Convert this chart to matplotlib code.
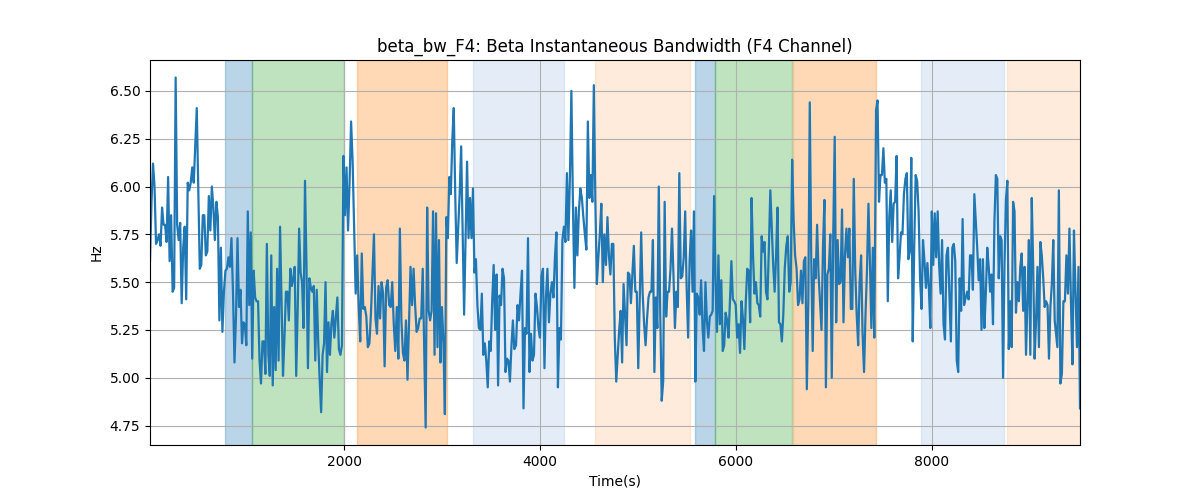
import numpy as np
import matplotlib
matplotlib.use("Agg")
import matplotlib.pyplot as plt

# beta bandwidth readings, grouped by stretch of time (start, end, values)
seg_bounds = [
    (20, 959), (973, 1901), (1932, 2803), (2833, 3738), (3755, 4656),
    (4673, 5571), (5585, 6497), (6513, 7411), (7429, 8327), (8344, 9252),
    (9279, 9510),
]

seg_values = [
    [5.61, 5.92, 6.12, 6.00, 5.70, 5.72, 5.75, 5.69, 5.89, 5.80, 5.80, 5.71, 6.05, 5.61, 5.85, 5.45,
     5.47, 6.57, 5.80, 5.72, 5.81, 5.39, 5.68, 5.79, 5.41, 6.02, 5.98, 6.02, 6.10, 6.02, 6.22, 6.41,
     6.00, 5.57, 5.59, 5.85, 5.85, 5.64, 5.66, 5.95, 5.77, 6.00, 5.89, 5.72, 5.92, 5.84, 5.30, 5.68,
     5.24, 5.45, 5.56, 5.57, 5.63, 5.58, 5.73, 5.45, 5.08, 5.32, 5.73, 5.37, 5.46, 5.18],
    [5.29, 5.28, 5.17, 5.87, 5.38, 5.76, 5.10, 5.56, 5.42, 5.40, 5.40, 5.09, 4.97, 5.19, 5.19, 5.02,
     5.70, 5.12, 5.01, 5.64, 4.96, 5.37, 5.04, 5.57, 5.09, 5.79, 5.40, 5.01, 5.21, 5.45, 5.45, 5.30,
     5.57, 5.48, 5.52, 5.58, 5.01, 5.35, 5.78, 5.55, 5.50, 5.26, 6.03, 5.59, 5.05, 5.52, 5.47, 5.45,
     5.48, 5.09, 5.46, 5.19, 4.99, 4.82, 5.12, 5.18, 5.50, 5.03, 5.29, 5.12, 5.28, 5.35, 5.21],
    [5.42, 5.15, 5.12, 5.17, 6.16, 5.85, 6.10, 5.77, 6.02, 6.34, 6.13, 5.78, 5.44, 5.64, 5.37, 5.19,
     5.65, 5.36, 5.37, 5.32, 5.16, 5.18, 5.33, 5.54, 5.75, 5.31, 5.23, 5.48, 5.31, 5.50, 5.44, 5.06,
     5.47, 5.51, 5.38, 5.37, 5.50, 5.28, 5.14, 5.37, 5.10, 5.78, 5.30, 5.13, 5.09, 5.30, 4.99, 5.28,
     5.58, 5.38, 5.57, 5.38, 5.24, 5.26, 5.31, 5.31, 5.57],
    [4.74, 5.89, 5.35, 5.30, 5.35, 5.87, 5.12, 5.86, 5.16, 5.72, 5.08, 5.37, 5.19, 4.81, 5.84, 5.73,
     6.05, 5.96, 6.24, 6.41, 5.96, 5.60, 5.78, 5.96, 6.21, 5.78, 5.33, 5.72, 6.13, 5.73, 5.94, 5.73,
     5.99, 5.55, 5.62, 5.38, 5.26, 5.25, 5.44, 5.12, 5.18, 5.09, 4.95, 5.19, 5.14, 5.40, 5.59, 5.25,
     5.54, 4.96, 5.43, 5.38, 5.57, 5.52, 5.03, 5.10, 5.09, 4.98, 5.16, 5.30, 5.15],
    [5.17, 5.38, 5.30, 5.44, 5.56, 4.84, 5.26, 5.23, 5.73, 5.03, 5.23, 5.09, 5.12, 5.44, 5.37, 5.26,
     5.21, 5.53, 5.57, 5.05, 5.42, 5.57, 5.29, 5.44, 5.50, 5.42, 5.63, 5.76, 4.95, 5.26, 5.20, 5.72,
     5.79, 5.71, 6.07, 5.72, 6.05, 6.50, 5.92, 5.47, 5.89, 5.64, 5.87, 5.99, 5.94, 5.84, 5.75, 5.67,
     6.34, 5.94, 6.06, 5.92, 6.53, 5.93, 5.49, 5.63, 5.75, 5.91, 5.50, 5.75],
    [5.59, 5.84, 5.64, 5.54, 5.70, 5.70, 5.21, 4.98, 5.12, 5.25, 5.35, 5.08, 5.49, 5.33, 5.17, 5.55,
     5.54, 5.39, 5.54, 5.69, 5.45, 5.45, 5.05, 5.40, 5.76, 5.44, 5.28, 5.17, 5.31, 5.42, 5.45, 5.45,
     5.72, 5.03, 5.42, 5.26, 6.00, 5.33, 4.88, 4.98, 5.92, 5.32, 5.45, 5.45, 5.57, 5.78, 5.54, 5.26,
     5.45, 5.37, 6.07, 5.52, 5.53, 5.63, 5.87, 5.47, 5.21, 5.61, 5.77, 5.45, 5.87],
    [4.98, 5.44, 5.42, 5.33, 5.51, 5.26, 5.14, 5.50, 5.30, 5.21, 5.32, 5.33, 5.35, 5.95, 5.50, 5.24,
     5.64, 5.28, 5.51, 5.14, 5.17, 5.34, 5.30, 5.21, 5.40, 5.61, 5.41, 5.40, 5.38, 5.21, 5.28, 5.13,
     5.40, 5.31, 5.15, 5.40, 5.57, 5.56, 5.29, 5.94, 5.64, 5.44, 5.50, 5.39, 5.38, 5.32, 5.74, 5.66,
     5.71, 5.45, 5.41, 5.68, 5.98, 5.78, 5.59, 5.45, 5.64, 5.89, 5.29, 5.28, 5.19, 5.33, 5.57],
    [5.69, 5.74, 5.45, 5.50, 6.14, 5.82, 5.64, 5.57, 5.38, 5.41, 5.56, 5.39, 5.61, 5.63, 4.94, 5.40,
     6.44, 5.63, 5.14, 5.62, 5.52, 5.80, 5.54, 5.40, 5.25, 5.68, 5.93, 4.95, 5.54, 5.57, 5.75, 5.00,
     5.75, 6.26, 5.29, 5.72, 5.49, 5.50, 5.88, 5.29, 5.64, 5.78, 5.63, 5.78, 5.36, 5.36, 6.04, 5.56,
     5.33, 5.17, 5.50, 5.64, 5.23, 5.03, 5.33, 5.56, 5.91, 5.61, 5.26, 5.68, 5.21],
    [6.40, 6.45, 5.92, 6.06, 6.06, 6.20, 6.02, 6.04, 5.40, 5.84, 5.98, 5.71, 5.91, 5.92, 6.16, 5.52,
     5.63, 5.76, 5.75, 5.96, 6.04, 6.07, 5.62, 5.66, 6.15, 5.19, 5.68, 6.06, 6.03, 5.87, 5.52, 5.36,
     5.72, 5.61, 5.47, 5.60, 5.47, 5.26, 5.87, 5.59, 5.86, 5.63, 5.87, 5.59, 5.44, 5.72, 5.28, 5.20,
     5.64, 5.68, 5.43, 5.19, 5.68, 5.70, 5.61, 5.09, 5.03, 5.52, 5.35, 5.83, 5.38],
    [5.42, 5.45, 5.41, 5.64, 5.64, 5.46, 5.96, 5.82, 5.68, 5.51, 5.62, 5.25, 5.62, 5.26, 5.44, 5.68,
     5.58, 5.45, 5.54, 5.28, 5.82, 6.06, 6.04, 5.52, 5.74, 5.72, 5.00, 5.58, 5.93, 6.03, 5.15, 5.40,
     5.16, 5.92, 5.87, 5.34, 5.50, 5.40, 5.58, 5.65, 5.35, 5.58, 5.12, 5.40, 5.72, 5.12, 5.94, 5.58,
     5.10, 5.30, 5.58, 5.16, 5.71, 5.64, 5.52, 5.37, 5.40, 5.38, 5.10, 5.37, 5.49, 5.72, 5.30],
    [5.16, 5.98, 4.97, 5.02, 5.40, 5.40, 5.64, 5.44, 5.78, 5.40, 5.07, 5.77, 5.45, 5.16, 5.58, 4.84],
]

# shaded phases: start, end, colour, alpha
span_start = [786, 1061, 2133, 3316, 4561, 5582, 5786, 6582, 7888, 8765]
span_end = [1061, 2000, 3051, 4245, 5531, 5786, 6571, 7429, 8735, 9510]
span_color = ["tab:blue", "tab:green", "tab:orange", "#a8c4e6", "tab:orange",
              "tab:blue", "tab:green", "tab:orange", "#a8c4e6", "tab:orange"]
span_alpha = [0.3, 0.3, 0.3, 0.3, 0.15, 0.3, 0.3, 0.3, 0.3, 0.15]

t = np.concatenate([np.linspace(a, b, len(v)) for (a, b), v in zip(seg_bounds, seg_values)])
y = np.concatenate([np.array(v) for v in seg_values])

fig, ax = plt.subplots(figsize=(12, 5), dpi=100)

for s, e, c, a in zip(span_start, span_end, span_color, span_alpha):
    ax.axvspan(s, e, color=c, alpha=a)

ax.plot(t, y, color="tab:blue", linewidth=1.6)

ax.set_xlim(t[0], t[-1])
ax.set_title("beta_bw_F4: Beta Instantaneous Bandwidth (F4 Channel)")
ax.set_xlabel("Time(s)")
ax.set_ylabel("Hz")
ax.grid(True)

fig.savefig("out.png", dpi=100)
